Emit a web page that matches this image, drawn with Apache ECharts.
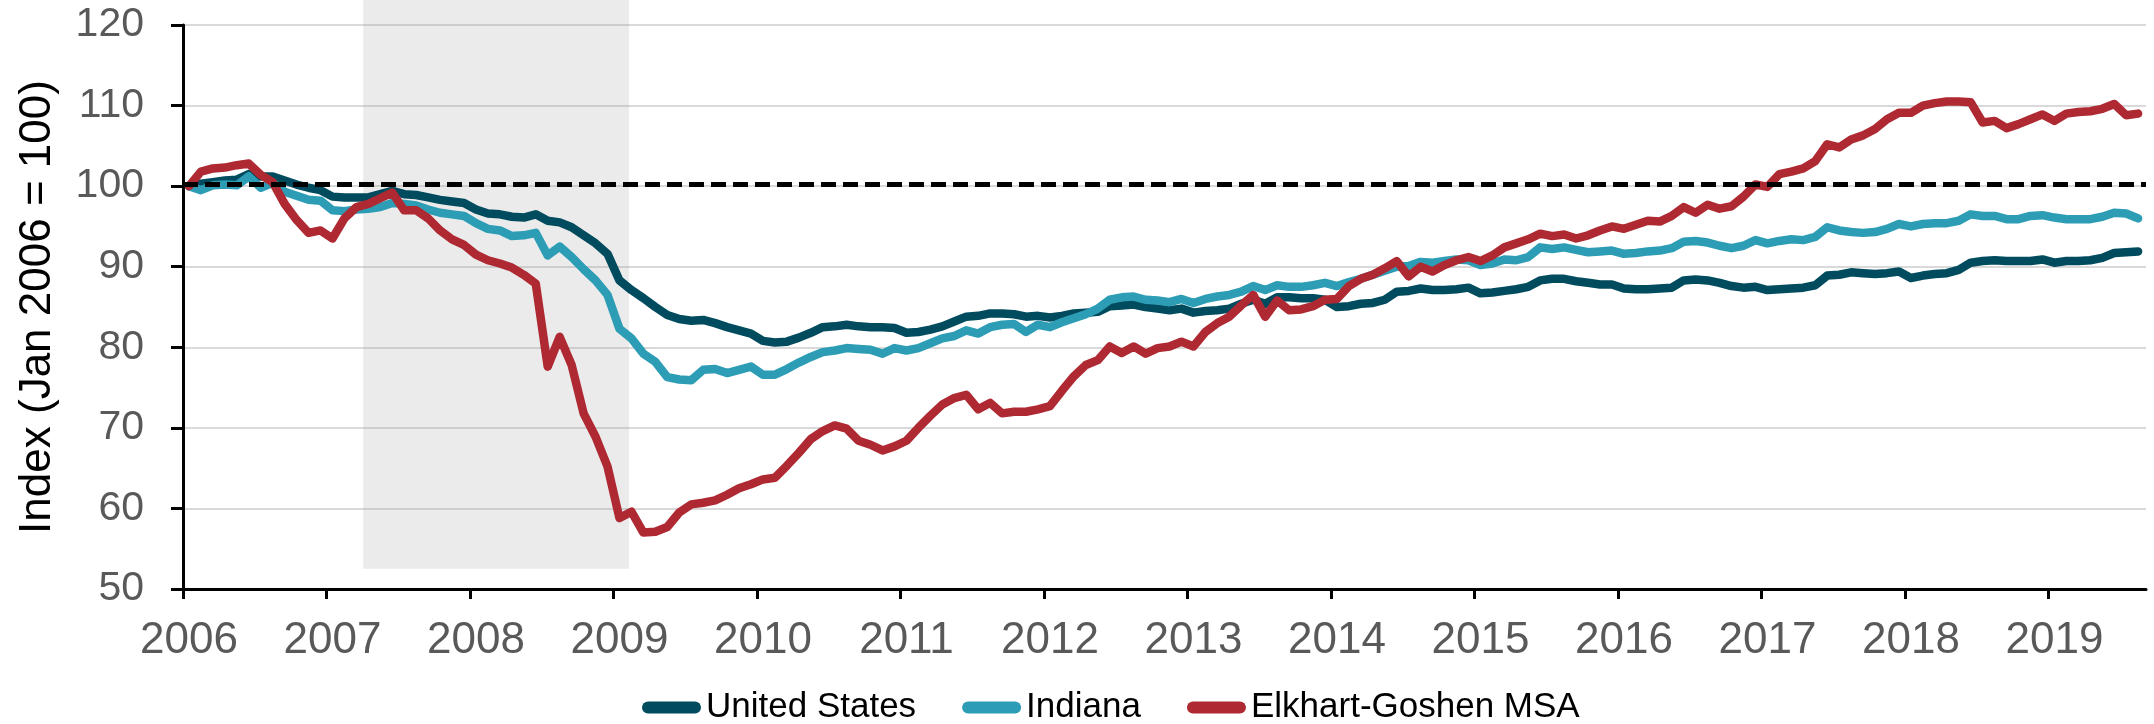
<!DOCTYPE html>
<html>
<head>
<meta charset="utf-8">
<script src="https://cdn.jsdelivr.net/npm/echarts@6/dist/echarts.min.js"></script>
<style>
  html, body { margin: 0; padding: 0; background: #fff; }
  #chart { width: 2154px; height: 724px; }
</style>
</head>
<body>
<div id="chart"></div>
<script>
// monthly index values, Jan 2006 .. Aug 2019 (Jan 2006 = 100)
var startYear = 2006;
var yearTicks = [2006, 2007, 2008, 2009, 2010, 2011, 2012, 2013, 2014, 2015, 2016, 2017, 2018, 2019];
var seriesNames = ['United States', 'Indiana', 'Elkhart-Goshen MSA'];

var usValues = [
  100, 100.3, 100.5, 100.7, 100.8, 101.5, 101.2, 101.2, 100.7, 100.2, 99.8, 99.5,
  98.7, 98.6, 98.6, 98.6, 99.0, 99.4, 99.0, 98.9, 98.6, 98.3, 98.1, 97.9,
  97.1, 96.6, 96.5, 96.2, 96.1, 96.5, 95.7, 95.5, 94.9, 93.9, 92.9, 91.6,
  88.3, 87.1, 86.1, 85.0, 84.0, 83.5, 83.3, 83.4, 83.0, 82.5, 82.1, 81.7,
  80.8, 80.6, 80.7, 81.2, 81.8, 82.5, 82.6, 82.8, 82.6, 82.5, 82.5, 82.4,
  81.8, 81.9, 82.2, 82.6, 83.2, 83.8, 83.9, 84.2, 84.2, 84.1, 83.8, 83.9,
  83.7, 83.9, 84.2, 84.3, 84.4, 85.1, 85.2, 85.3, 85.0, 84.8, 84.6, 84.8,
  84.3, 84.5, 84.6, 84.8, 85.4, 85.9, 85.4, 86.2, 86.2, 86.1, 86.1, 85.9,
  85.0, 85.1, 85.4, 85.5, 85.9, 86.9, 87.0, 87.3, 87.1, 87.1, 87.2, 87.4,
  86.7, 86.8, 87.0, 87.2, 87.5, 88.3, 88.5, 88.5, 88.2, 88.0, 87.8, 87.8,
  87.3, 87.2, 87.2, 87.3, 87.4, 88.3, 88.4, 88.3, 88.0, 87.6, 87.4, 87.5,
  87.1, 87.2, 87.3, 87.4, 87.7, 88.9, 89.0, 89.3, 89.2, 89.1, 89.2, 89.4,
  88.6, 88.9, 89.1, 89.2, 89.6, 90.5, 90.7, 90.8, 90.7, 90.7, 90.7, 90.9,
  90.5, 90.7, 90.7, 90.8, 91.1, 91.7, 91.8, 91.9
];

var indianaValues = [
  100, 99.5, 100.1, 100.2, 100.1, 101.2, 99.8, 100.4, 99.3, 98.8, 98.3, 98.2,
  97.0, 96.9, 97.1, 97.2, 97.4, 97.9, 97.8, 97.6, 97.1, 96.7, 96.5, 96.3,
  95.4, 94.7, 94.5, 93.8, 93.9, 94.2, 91.4, 92.5, 91.2, 89.7, 88.3, 86.5,
  82.3, 81.1, 79.2, 78.2, 76.3, 76.0, 75.9, 77.2, 77.3, 76.8, 77.2, 77.6,
  76.6, 76.6, 77.3, 78.1, 78.8, 79.4, 79.6, 79.9, 79.8, 79.7, 79.2, 79.9,
  79.6, 79.9, 80.5, 81.1, 81.4, 82.1, 81.7, 82.5, 82.8, 82.9, 81.9, 82.8,
  82.5, 83.1, 83.6, 84.1, 84.8, 85.9, 86.2, 86.3, 85.9, 85.8, 85.6, 86.0,
  85.5, 86.0, 86.3, 86.5, 86.9, 87.6, 87.1, 87.7, 87.5, 87.5, 87.7, 88.0,
  87.6, 88.1, 88.5, 89.0, 89.5, 90.0, 90.1, 90.6, 90.5, 90.7, 90.9, 90.8,
  90.2, 90.4, 90.9, 90.8, 91.2, 92.4, 92.2, 92.4, 92.1, 91.8, 91.9, 92.0,
  91.6, 91.7, 91.9, 92.0, 92.3, 93.1, 93.2, 93.0, 92.6, 92.3, 92.6, 93.3,
  92.9, 93.2, 93.4, 93.3, 93.7, 94.9, 94.5, 94.3, 94.2, 94.3, 94.7, 95.3,
  95.0, 95.3, 95.4, 95.4, 95.7, 96.5, 96.3, 96.3, 95.9, 95.9, 96.3, 96.4,
  96.1, 95.9, 95.9, 95.9, 96.2, 96.7, 96.6, 96.0
];

var elkhartValues = [
  100, 101.8, 102.2, 102.3, 102.6, 102.8, 101.4, 100.5, 97.8, 95.8, 94.2, 94.5,
  93.5, 96.0, 97.4, 97.8, 98.5, 99.2, 97.0, 97.0, 96.0, 94.5, 93.4, 92.7,
  91.5, 90.8, 90.4, 89.9, 89.0, 87.9, 77.6, 81.3, 77.8, 71.8, 68.9, 65.2,
  58.8, 59.6, 57.0, 57.1, 57.7, 59.5, 60.5, 60.7, 61.0, 61.7, 62.5, 63.0,
  63.6, 63.8, 65.3, 66.9, 68.6, 69.6, 70.3, 69.9, 68.4, 67.9, 67.2, 67.7,
  68.4, 70.0, 71.5, 72.9, 73.7, 74.1, 72.3, 73.1, 71.8, 72.0, 72.0, 72.3,
  72.7, 74.6, 76.4, 77.8, 78.4, 80.1, 79.3, 80.1, 79.2, 79.9, 80.1, 80.7,
  80.1, 81.9, 83.0, 83.8, 85.2, 86.5, 83.8, 85.8, 84.6, 84.7, 85.1, 85.9,
  86.0, 87.6, 88.5, 89.0, 89.8, 90.7, 88.8, 90.0, 89.4, 90.2, 90.8, 91.2,
  90.7, 91.4, 92.4, 92.9, 93.4, 94.1, 93.8, 94.0, 93.5, 93.9, 94.5, 95.0,
  94.7, 95.2, 95.7, 95.6, 96.3, 97.4, 96.7, 97.7, 97.2, 97.5, 98.7, 100.2,
  99.9, 101.5, 101.8, 102.2, 103.1, 105.2, 104.8, 105.8, 106.3, 107.1, 108.3, 109.1,
  109.1, 110.0, 110.3, 110.5, 110.5, 110.4, 107.9, 108.1, 107.2, 107.7, 108.3, 108.9,
  108.1, 109.0, 109.2, 109.3, 109.6, 110.2, 108.8, 109.0
];

// recession shading (fractional years) and reference level
var shadeStart = 2007.256;
var shadeEnd = 2009.108;
var shadeBottom = 52.5;
var refLevel = 100.2;

var xMax = 2019.68;
var shadeTop = 123.08;
var colors = ['#004b5d', '#2d9db6', '#af2932'];

function toPoints(values) {
  var pts = [];
  for (var i = 0; i < values.length; i++) {
    pts.push([startYear + (i + 0.5) / 12, values[i]]);
  }
  return pts;
}

var fontFamily = "'Liberation Sans', Arial, sans-serif";
var chart = echarts.init(document.getElementById('chart'), null, { renderer: 'canvas' });

var lineSeries = [usValues, indianaValues, elkhartValues].map(function (vals, k) {
  return {
    name: seriesNames[k],
    type: 'line',
    xAxisIndex: 0,
    yAxisIndex: 0,
    data: toPoints(vals),
    showSymbol: false,
    symbol: 'none',
    z: 2 + k * 0.1,
    lineStyle: { color: colors[k], width: 8.5, cap: 'round', join: 'round' },
    itemStyle: { color: colors[k] }
  };
});

var option = {
  animation: false,
  textStyle: { fontFamily: fontFamily },
  grid: [
    { left: 183, right: 8, top: 25, bottom: 135 },
    { left: 183, right: 8, top: 0, bottom: 135 }
  ],
  legend: {
    data: seriesNames,
    left: 637,
    top: 685,
    itemWidth: 59,
    itemHeight: 12,
    itemGap: 46,
    icon: 'path://M6,0 L53,0 A6,6 0 0 1 53,12 L6,12 A6,6 0 0 1 6,0 Z',
    textStyle: { fontSize: 35, color: '#000', fontFamily: fontFamily }
  },
  xAxis: [
    {
      type: 'value',
      gridIndex: 0,
      min: startYear,
      max: xMax,
      interval: 1,
      splitLine: { show: false },
      axisLine: { show: true, lineStyle: { color: '#000', width: 3 } },
      axisTick: { show: true, length: 10, customValues: yearTicks, lineStyle: { color: '#000', width: 3 } },
      axisLabel: {
        customValues: yearTicks,
        fontSize: 44,
        color: '#595959',
        margin: 30,
        padding: [0, 0, 0, 12],
        formatter: function (v) { return String(v); }
      }
    },
    { type: 'value', gridIndex: 1, min: startYear, max: xMax, show: false }
  ],
  yAxis: [
    {
      type: 'value',
      gridIndex: 0,
      min: 50,
      max: 120,
      interval: 10,
      name: 'Index (Jan 2006 = 100)',
      nameLocation: 'middle',
      nameGap: 123,
      nameTextStyle: { fontSize: 44, color: '#000', fontFamily: fontFamily },
      axisLine: { show: true, lineStyle: { color: '#000', width: 3 } },
      axisTick: { show: true, length: 12, lineStyle: { color: '#000', width: 3 } },
      axisLabel: { fontSize: 41, color: '#595959', margin: 39 },
      splitLine: { show: true, lineStyle: { color: '#d9d9d9', width: 2 } }
    },
    { type: 'value', gridIndex: 1, min: 50, max: shadeTop, show: false }
  ],
  series: lineSeries.concat([
    {
      name: 'ref',
      type: 'line',
      xAxisIndex: 0,
      yAxisIndex: 0,
      data: [],
      z: 5,
      markLine: {
        silent: true,
        symbol: 'none',
        label: { show: false },
        lineStyle: { color: '#000', width: 5, type: [15, 7] },
        data: [{ yAxis: refLevel }]
      }
    },
    {
      name: 'shade',
      type: 'line',
      xAxisIndex: 1,
      yAxisIndex: 1,
      data: [],
      z: 10,
      markArea: {
        silent: true,
        itemStyle: { color: 'rgba(160,160,160,0.21)' },
        data: [[{ coord: [shadeStart, shadeBottom] }, { coord: [shadeEnd, shadeTop] }]]
      }
    }
  ])
};

chart.setOption(option);
</script>
</body>
</html>
